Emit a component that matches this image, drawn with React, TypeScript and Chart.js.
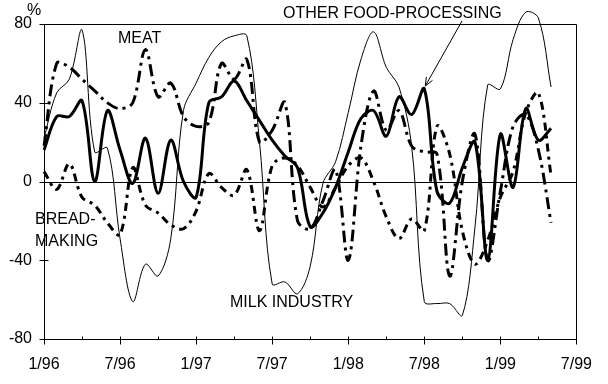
import React, { useEffect, useRef } from 'react';
import { Chart, registerables } from 'chart.js';

Chart.register(...registerables);

// Months from 1/96 to 7/99 (x axis categories)
const months = [
  '1/96', '2/96', '3/96', '4/96', '5/96', '6/96', '7/96', '8/96', '9/96', '10/96', '11/96', '12/96',
  '1/97', '2/97', '3/97', '4/97', '5/97', '6/97', '7/97', '8/97', '9/97', '10/97', '11/97', '12/97',
  '1/98', '2/98', '3/98', '4/98', '5/98', '6/98', '7/98', '8/98', '9/98', '10/98', '11/98', '12/98',
  '1/99', '2/99', '3/99', '4/99', '5/99', '6/99', '7/99',
];

// Annual change, %, monthly values 1/96 .. 5/99
const otherFoodProcessing = [
  16, 33, 33, 41, 0, 36, 16, -1, 22, -6, 21, 0,
  -8, 40, 43, 51, 41, 31, 21, 13, 7, -23, -16, -3,
  15, 32, 36, 23, 43, 34, 47, -5, -11, 7, 20, -40,
  24, -3, 37, 21, 27,
];

const milkIndustry = [
  22, 45, 52, 77, 15, 17, -29, -61, -42, -48, -29, 36,
  50, 63, 71, 74, 74, 20, -52, -51, -57, -43, -1, 10,
  35, 62, 76, 58, 48, 18, -61, -62, -62, -68, -23, 49,
  47, 72, 86, 83, 48,
];

const meat = [
  18, 60, 58, 52, 46, 40, 37, 40, 67, 43, 50, 33,
  28, 30, 60, 52, 62, 20, 26, 40, -20, -24, -10, 6,
  -40, 18, 46, 26, 36, 18, 15, 14, -48, 0, 24, -40,
  -5, 28, 34, 16, -21,
];

const breadMaking = [
  5, -4, 9, -8, -12, -21, -27, 7, -12, -16, -22, -24,
  -15, 4, -3, -7, 6, -25, 8, 12, 8, -3, -13, -3,
  8, 12, 0, -18, -29, -19, -25, 28, 14, -25, -42, -30,
  -8, 5, 35, 45, 3,
];

const yTickValues = [-80, -40, 0, 40, 80];

const FONT = '"Liberation Sans", Arial, sans-serif';

const decorPlugin = {
  id: 'decor',
  beforeDatasetsDraw(chart: any) {
    const { ctx, chartArea: a, scales } = chart;
    const x = scales.x;
    const y = scales.y;
    ctx.save();
    ctx.strokeStyle = '#000';
    ctx.lineWidth = 1;
    ctx.beginPath();
    const L = Math.round(a.left) + 0.5;
    const R = Math.round(a.right) + 0.5;
    const T = Math.round(a.top) + 0.5;
    const B = Math.round(a.bottom) + 0.5;
    // frame
    ctx.moveTo(L, T); ctx.lineTo(R, T);
    ctx.moveTo(R, T); ctx.lineTo(R, B);
    ctx.moveTo(L, T); ctx.lineTo(L, B);
    ctx.moveTo(L, B); ctx.lineTo(R, B);
    // zero line
    const y0 = Math.round(y.getPixelForValue(0)) + 0.5;
    ctx.moveTo(L, y0); ctx.lineTo(R, y0);
    // x tick marks
    for (let i = 0; i < months.length; i += 3) {
      const px = Math.round(x.getPixelForValue(i)) + 0.5;
      const major = i % 6 === 0;
      ctx.moveTo(px, B - 3);
      ctx.lineTo(px, B + (major ? 5 : 0));
    }
    // y tick marks
    for (const v of yTickValues) {
      const py = Math.round(y.getPixelForValue(v)) + 0.5;
      ctx.moveTo(L - 5, py);
      ctx.lineTo(L + 4, py);
    }
    ctx.stroke();
    ctx.restore();
  },
  afterDraw(chart: any) {
    const { ctx, scales } = chart;
    const x = scales.x;
    const y = scales.y;
    ctx.save();
    ctx.fillStyle = '#000';
    ctx.font = `16px ${FONT}`;
    ctx.textAlign = 'left';
    ctx.textBaseline = 'alphabetic';
    ctx.fillText('%', 27, 15);
    ctx.fillText('OTHER FOOD-PROCESSING', 283, 18);
    ctx.fillText('MEAT', 118, 43);
    ctx.fillText('BREAD-', 35, 224);
    ctx.fillText('MAKING', 35, 246);
    ctx.fillText('MILK INDUSTRY', 230, 307);

    // arrow pointing to the other food-processing line at 7/98
    const tipX = x.getPixelForValue(30) + 1;
    const tipY = y.getPixelForValue(otherFoodProcessing[30]) - 3;
    const sx = 462;
    const sy = 21;
    ctx.strokeStyle = '#000';
    ctx.lineWidth = 1;
    ctx.beginPath();
    ctx.moveTo(sx, sy);
    ctx.lineTo(tipX, tipY);
    const ang = Math.atan2(tipY - sy, tipX - sx);
    const hl = 9;
    ctx.moveTo(tipX, tipY);
    ctx.lineTo(tipX - hl * Math.cos(ang - 0.4), tipY - hl * Math.sin(ang - 0.4));
    ctx.moveTo(tipX, tipY);
    ctx.lineTo(tipX - hl * Math.cos(ang + 0.4), tipY - hl * Math.sin(ang + 0.4));
    ctx.stroke();
    ctx.restore();
  },
};

export default function App() {
  const ref = useRef<HTMLCanvasElement | null>(null);

  useEffect(() => {
    document.body.style.margin = '0';
    const canvas = ref.current;
    if (!canvas) return;
    const chart = new Chart(canvas, {
      type: 'line',
      data: {
        labels: months,
        datasets: [
          {
            label: 'Other food-processing',
            data: otherFoodProcessing,
            borderColor: '#000',
            borderWidth: 3,
            tension: 0.35,
          },
          {
            label: 'Meat',
            data: meat,
            borderColor: '#000',
            borderWidth: 3,
            borderDash: [12, 5, 3, 5],
            tension: 0.35,
          },
          {
            label: 'Bread-making',
            data: breadMaking,
            borderColor: '#000',
            borderWidth: 3,
            borderDash: [8, 5, 3, 5],
            tension: 0.35,
          },
          {
            label: 'Milk industry',
            data: milkIndustry,
            borderColor: '#000',
            borderWidth: 1,
            tension: 0.35,
            clip: false,
          },
        ],
      },
      options: {
        responsive: false,
        animation: false,
        layout: { padding: { top: 24, right: 25, left: 0, bottom: 0 } },
        plugins: { legend: { display: false }, tooltip: { enabled: false } },
        elements: { point: { radius: 0 } },
        scales: {
          x: {
            type: 'category',
            offset: false,
            grid: { display: false, drawTicks: false },
            border: { display: false },
            ticks: {
              autoSkip: false,
              maxRotation: 0,
              minRotation: 0,
              padding: 16,
              color: '#000',
              font: { family: FONT, size: 16 },
              callback: (_v: any, i: number) => (i % 6 === 0 ? months[i] : ''),
            },
            afterFit: (s: any) => {
              s.height = 45;
            },
          },
          y: {
            min: -80,
            max: 80,
            grid: { display: false, drawTicks: false },
            border: { display: false },
            afterBuildTicks: (s: any) => {
              s.ticks = yTickValues.map((v) => ({ value: v }));
            },
            ticks: {
              padding: 12,
              color: '#000',
              font: { family: FONT, size: 16 },
              callback: (v: any) => String(v),
            },
            afterFit: (s: any) => {
              s.width = 44;
            },
          },
        },
      },
      plugins: [decorPlugin],
    } as any);
    return () => chart.destroy();
  }, []);

  return (
    <div style={{ width: 608, height: 384 }}>
      <canvas ref={ref} width={608} height={384} />
    </div>
  );
}
